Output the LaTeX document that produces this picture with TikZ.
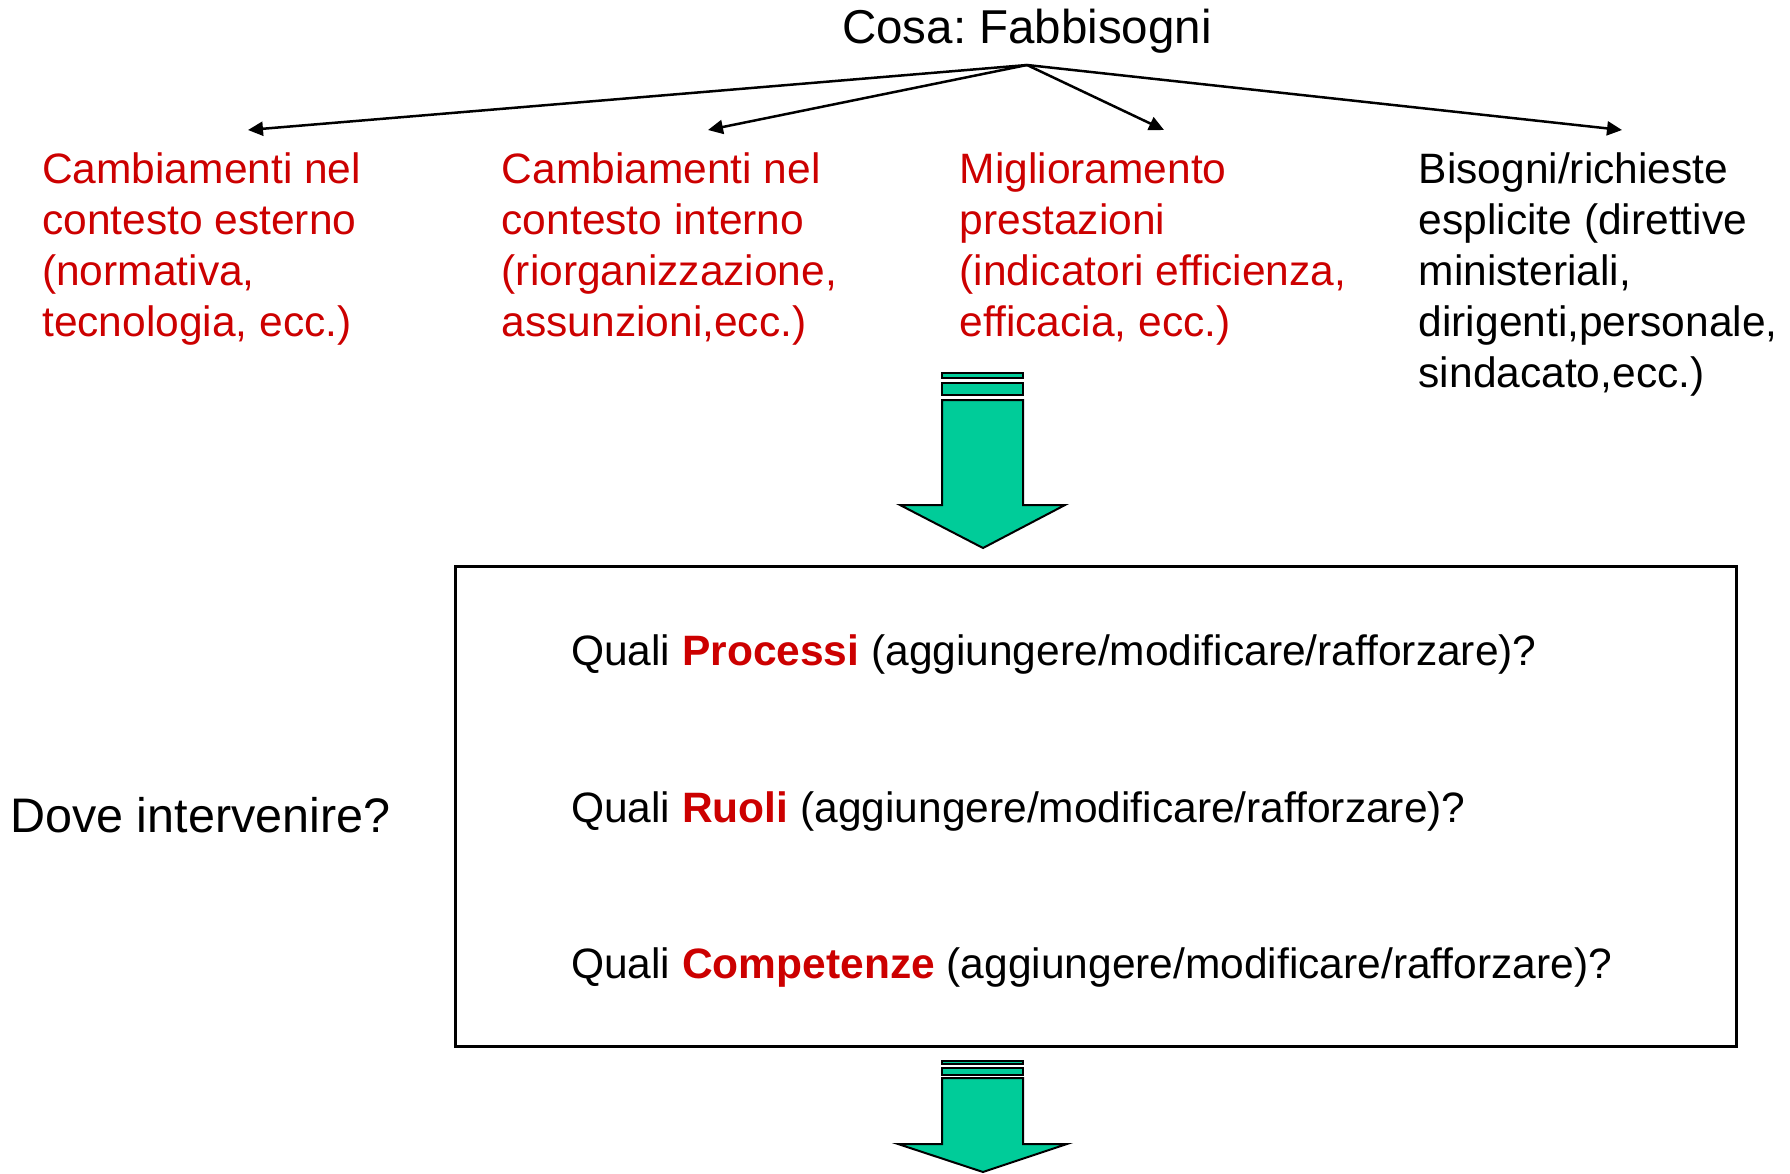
\documentclass[tikz,border=0pt]{standalone}
\usepackage{fontspec}
\setmainfont{Liberation Sans}
\usetikzlibrary{arrows.meta}
\definecolor{rd}{HTML}{CC0000}
\definecolor{gr}{HTML}{00CC99}
\frenchspacing
\begin{document}
\begin{tikzpicture}[x=1pt,y=-1pt,
  lbl/.style={anchor=base west, inner sep=0pt, font=\fontsize{42.5}{51}\selectfont},
  big/.style={anchor=base, inner sep=0pt, font=\fontsize{47.5}{56}\selectfont},
  conn/.style={line width=2.5pt, -{Triangle[length=15pt,width=14pt]}},
  greenarrow/.style={fill=gr, draw=black, line width=2pt, line join=miter}]
\useasboundingbox (0,0) rectangle (1790,1173);

% title and fan of arrows
\node[big] (title) at (1027,43) {Cosa: Fabbisogni};
\coordinate (src) at (1027,65);
\coordinate (e1) at (248,130);
\coordinate (e2) at (708,130);
\coordinate (e3) at (1164,130);
\coordinate (e4) at (1622,130);
\draw[conn] (src) -- (e1);
\draw[conn] (src) -- (e2);
\draw[conn] (src) -- (e3);
\draw[conn] (src) -- (e4);

% four cause blocks
\node[lbl, text=rd] (b1) at (42,183) {\vtop{\hbox{Cambiamenti nel}\hbox{contesto esterno}\hbox{(normativa,}\hbox{tecnologia, ecc.)}}};
\node[lbl, text=rd] (b2) at (501.5,183) {\vtop{\hbox{Cambiamenti nel}\hbox{contesto interno}\hbox{(riorganizzazione,}\hbox{assunzioni,ecc.)}}};
\node[lbl, text=rd] (b3) at (959.5,183) {\vtop{\hbox{Miglioramento}\hbox{prestazioni}\hbox{(indicatori efficienza,}\hbox{efficacia, ecc.)}}};
\node[lbl] (b4) at (1418.5,183) {\vtop{\hbox{Bisogni/richieste}\hbox{esplicite (direttive}\hbox{ministeriali,}\hbox{dirigenti,personale,}\hbox{sindacato,ecc.)}}};

% first green arrow
\draw[greenarrow] (942,373) rectangle (1023,378);
\draw[greenarrow] (942,383) rectangle (1023,395);
\draw[greenarrow] (942,400) -- (1023,400) -- (1023,505) -- (1065,505) -- (983,548) -- (900,505) -- (942,505) -- cycle;

% box with questions
\node[draw, line width=2.5pt, minimum width=1281pt, minimum height=480pt, inner sep=0pt, anchor=north west] (box) at (454,565) {};
\node[lbl] (q1) at (571,665) {Quali {\bfseries\color{rd}Processi} (aggiungere/modificare/rafforzare)?};
\node[lbl] (q2) at (571,822) {Quali {\bfseries\color{rd}Ruoli} (aggiungere/modificare/rafforzare)?};
\node[lbl] (q3) at (571,978) {Quali {\bfseries\color{rd}Competenze} (aggiungere/modificare/rafforzare)?};

\node[anchor=base west, inner sep=0pt, font=\fontsize{48.5}{58}\selectfont] (dove) at (10,832) {Dove intervenire?};

% second green arrow
\draw[greenarrow] (942,1061) rectangle (1023,1064);
\draw[greenarrow] (942,1068) rectangle (1023,1075);
\draw[greenarrow] (942,1078) -- (1023,1078) -- (1023,1144) -- (1067,1144) -- (983,1172) -- (898,1144) -- (942,1144) -- cycle;
\end{tikzpicture}
\end{document}
